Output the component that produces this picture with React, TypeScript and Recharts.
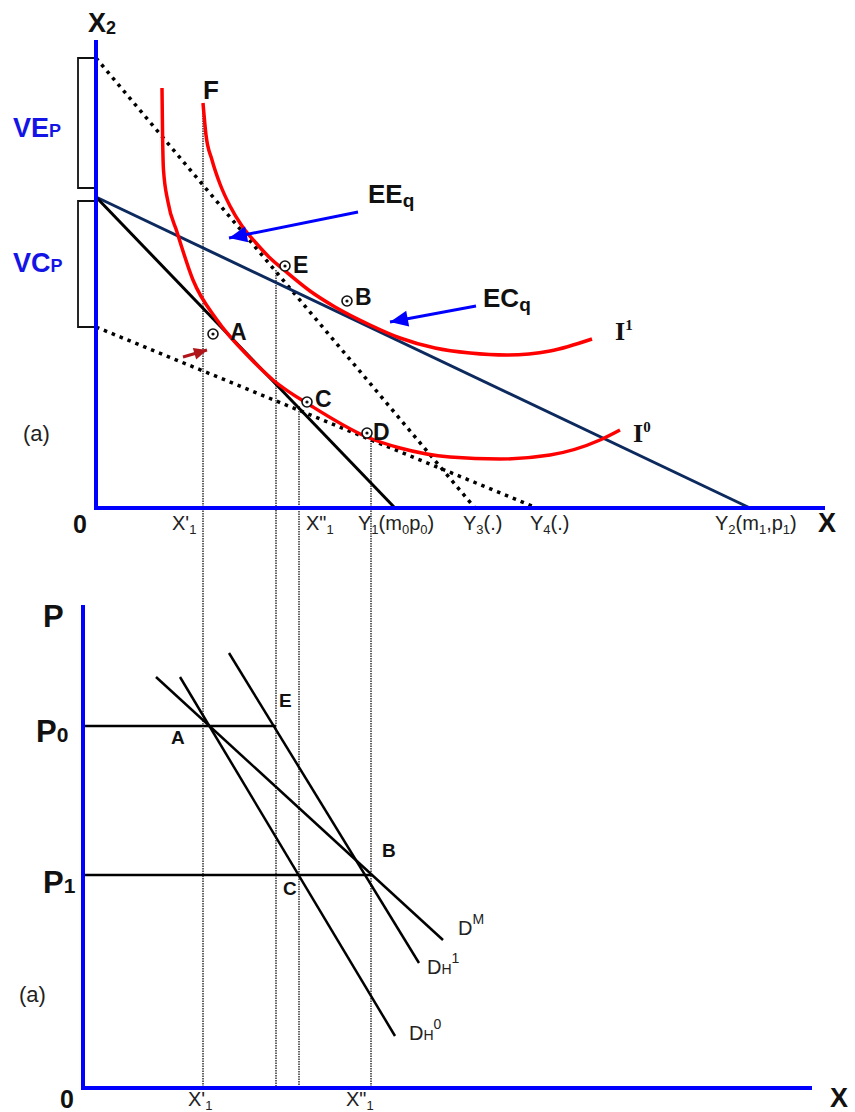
import React from 'react';
import { ComposedChart, XAxis, YAxis, Line, ReferenceDot } from 'recharts';

type Pt = { x: number; y: number };

const SANS = 'Liberation Sans, Arial, Helvetica, sans-serif';
const SERIF = 'Liberation Serif, Times New Roman, serif';

// ---- upper panel (a): X along the bottom, X2 up, origin at the blue corner ----
const topAxisPts: Pt[] = [{ x: 0, y: 468 }, { x: 0, y: 0 }, { x: 729, y: 0 }];
const vepBracket: Pt[] = [{ x: -2, y: 450 }, { x: -18, y: 450 }, { x: -18, y: 320 }, { x: -2, y: 320 }];
const vcpBracket: Pt[] = [{ x: -2, y: 307 }, { x: -18, y: 307 }, { x: -18, y: 181 }, { x: -2, y: 181 }];

const budgetY1: Pt[] = [{ x: 0, y: 311 }, { x: 299, y: 0 }];
const budgetY2: Pt[] = [{ x: 0, y: 311 }, { x: 654, y: 0 }];
const budgetY3: Pt[] = [{ x: 0, y: 450 }, { x: 379, y: 0 }];
const budgetY4: Pt[] = [{ x: 0, y: 181 }, { x: 441, y: 0 }];

const indiffI0: Pt[] = [
  { x: 66, y: 420 }, { x: 66.5, y: 378 }, { x: 67.5, y: 338 }, { x: 72, y: 306 }, { x: 81, y: 276 },
  { x: 97, y: 228 }, { x: 121, y: 188 }, { x: 154, y: 150 }, { x: 177, y: 128 }, { x: 217, y: 101 },
  { x: 271, y: 71 }, { x: 304, y: 60 }, { x: 354, y: 51 }, { x: 404, y: 49 }, { x: 454, y: 53 },
  { x: 504, y: 68 }, { x: 524, y: 78 },
];
const indiffI1: Pt[] = [
  { x: 107, y: 405 }, { x: 110, y: 373 }, { x: 116, y: 348 }, { x: 124, y: 324 }, { x: 134, y: 302 },
  { x: 146, y: 282 }, { x: 160, y: 265 }, { x: 174, y: 250 }, { x: 188, y: 238 }, { x: 214, y: 217 },
  { x: 239, y: 201 }, { x: 274, y: 183 }, { x: 304, y: 170 }, { x: 339, y: 160 }, { x: 374, y: 155 },
  { x: 411, y: 153 }, { x: 454, y: 157 }, { x: 496, y: 169 },
];

// drop lines from F, E, C, D down to the lower axis
const dropX = [107, 180, 203, 275];
const dropTop = [405, 238, 102, 75];
const dropBottom = -580;

const pointMarks: Pt[] = [
  { x: 117, y: 174 }, { x: 189, y: 242 }, { x: 251, y: 207 }, { x: 211, y: 106 }, { x: 271, y: 75 },
];
const pointNames = ['A', 'E', 'B', 'C', 'D'];
const pointNameAt: Pt[] = [
  { x: 134, y: 168 }, { x: 197, y: 235 }, { x: 259, y: 203 }, { x: 219, y: 101 }, { x: 277, y: 68 },
];

const arrowEE: Pt[] = [{ x: 262, y: 296 }, { x: 133, y: 270 }];
const arrowEC: Pt[] = [{ x: 380, y: 202 }, { x: 294, y: 186 }];
const arrowShift: Pt[] = [{ x: 87, y: 151 }, { x: 111, y: 158 }];

// ---- lower panel (a): X along the bottom, P up ----
const lowAxisPts: Pt[] = [{ x: 0, y: 483 }, { x: 0, y: 0 }, { x: 729, y: 0 }];
const priceP0: Pt[] = [{ x: 0, y: 362 }, { x: 193, y: 362 }];
const priceP1: Pt[] = [{ x: 0, y: 213 }, { x: 289, y: 213 }];
const demandM: Pt[] = [{ x: 73, y: 411 }, { x: 360, y: 148 }];
const demandH1: Pt[] = [{ x: 146, y: 435 }, { x: 336, y: 125 }];
const demandH0: Pt[] = [{ x: 97, y: 411 }, { x: 312, y: 52 }];
const lowPointNames = ['A', 'E', 'B', 'C'];
const lowPointNameAt: Pt[] = [{ x: 88, y: 344 }, { x: 196, y: 381 }, { x: 299, y: 231 }, { x: 200, y: 193 }];

const seg = (
  key: string, ax: string, pts: Pt[], stroke: string, width: number,
  dash?: string, curve: 'linear' | 'monotone' = 'linear', dot: any = false,
) => (
  <Line
    key={key}
    xAxisId={ax}
    yAxisId={ax}
    data={pts}
    dataKey="y"
    type={curve}
    stroke={stroke}
    strokeWidth={width}
    strokeDasharray={dash}
    dot={dot}
    activeDot={false}
    isAnimationActive={false}
  />
);

const arrowHead = (pts: Pt[], color: string, len: number, half: number) => (p: any) => {
  if (p.index !== pts.length - 1) return <g key={`n${p.index}`} />;
  const a = pts[pts.length - 2];
  const b = pts[pts.length - 1];
  const deg = (Math.atan2(-(b.y - a.y), b.x - a.x) * 180) / Math.PI;
  return (
    <polygon
      key="head"
      points={`0,0 ${-len},${-half} ${-len},${half}`}
      fill={color}
      transform={`translate(${p.cx},${p.cy}) rotate(${deg})`}
    />
  );
};

// text pieces: [text, fontSize (0 = inherit), offset from baseline (+ is down)]
type Piece = [string, number, number];
const rich = (parts: Piece[]) => {
  let cur = 0;
  return parts.map(([t, size, off], i) => {
    const dy = off - cur;
    cur = off;
    return (
      <tspan key={i} fontSize={size || undefined} dy={dy || undefined}>
        {t}
      </tspan>
    );
  });
};

const note = (key: string, ax: string, at: Pt, body: React.ReactNode, style: any) => (
  <ReferenceDot
    key={key}
    xAxisId={ax}
    yAxisId={ax}
    x={at.x}
    y={at.y}
    r={0}
    ifOverflow="visible"
    shape={(p: any) => (
      <text x={p.cx} y={p.cy} {...style}>
        {body}
      </text>
    )}
  />
);

const tick = { fontFamily: SANS, fontSize: 20, fill: '#222' };
const bold = (size: number, fill = '#111') => ({ fontFamily: SANS, fontSize: size, fontWeight: 700, fill });
const serifBold = { fontFamily: SERIF, fontSize: 26, fontWeight: 700, fill: '#111' };

const App = () => {
  const NAVY = '#0d2a5e';
  const BLUE = '#0000ff';
  const RED = '#ff0000';
  return (
    <div style={{ position: 'absolute', left: 0, top: 0 }}>
      <ComposedChart width={855} height={1112} margin={{ top: 0, right: 0, bottom: 0, left: 0 }}>
        <XAxis xAxisId="t" type="number" dataKey="x" domain={[-96, 759]} scale="linear" allowDataOverflow hide />
        <YAxis yAxisId="t" type="number" domain={[-604, 508]} scale="linear" allowDataOverflow hide />
        <XAxis xAxisId="b" type="number" dataKey="x" domain={[-83, 772]} scale="linear" allowDataOverflow hide />
        <YAxis yAxisId="b" type="number" domain={[-24, 1088]} scale="linear" allowDataOverflow hide />

        {dropX.map((x, i) =>
          seg(`drop${i}`, 't', [{ x, y: dropTop[i] }, { x, y: dropBottom }], '#111', 1.3, '1.5 1'),
        )}

        {seg('vep', 't', vepBracket, '#111', 1.8)}
        {seg('vcp', 't', vcpBracket, '#111', 1.8)}
        {seg('y3', 't', budgetY3, '#000', 3.5, '3.5 5')}
        {seg('y4', 't', budgetY4, '#000', 3.5, '3.5 5')}
        {seg('y2', 't', budgetY2, NAVY, 3)}
        {seg('y1', 't', budgetY1, '#000', 3)}
        {seg('i0', 't', indiffI0, RED, 3.5, undefined, 'monotone')}
        {seg('i1', 't', indiffI1, RED, 3.5, undefined, 'monotone')}
        {seg('taxis', 't', topAxisPts, BLUE, 4)}

        {seg('aee', 't', arrowEE, BLUE, 3, undefined, 'linear', arrowHead(arrowEE, BLUE, 18, 8))}
        {seg('aec', 't', arrowEC, BLUE, 3, undefined, 'linear', arrowHead(arrowEC, BLUE, 18, 8))}
        {seg('ash', 't', arrowShift, '#b0151a', 3, undefined, 'linear', arrowHead(arrowShift, '#b0151a', 13, 6))}

        {pointMarks.map((m, i) => (
          <ReferenceDot
            key={`pm${i}`}
            xAxisId="t"
            yAxisId="t"
            x={m.x}
            y={m.y}
            r={5}
            ifOverflow="visible"
            shape={(p: any) => (
              <g>
                <circle cx={p.cx} cy={p.cy} r={5} fill="#fff" stroke="#111" strokeWidth={1.6} />
                <circle cx={p.cx} cy={p.cy} r={1.6} fill="#111" />
              </g>
            )}
          />
        ))}
        {pointNames.map((n, i) => note(`pn${i}`, 't', pointNameAt[i], n, bold(23)))}

        {note('x2', 't', { x: -8, y: 476 }, rich([['X', 0, 0], ['2', 18, 2]]), bold(27))}
        {note('vepl', 't', { x: -83, y: 371 }, rich([['VE', 0, 0], ['P', 18, 0]]), bold(27, '#1414e6'))}
        {note('vcpl', 't', { x: -83, y: 236 }, rich([['VC', 0, 0], ['P', 18, 0]]), bold(27, '#1414e6'))}
        {note('f', 't', { x: 107, y: 409 }, 'F', bold(26))}
        {note('eeq', 't', { x: 272, y: 305 }, rich([['EE', 0, 0], ['q', 19, 4]]), bold(26))}
        {note('ecq', 't', { x: 387, y: 201 }, rich([['EC', 0, 0], ['q', 19, 4]]), bold(26))}
        {note('i1l', 't', { x: 519, y: 168 }, rich([['I', 0, 0], ['1', 15, -10]]), serifBold)}
        {note('i0l', 't', { x: 537, y: 66 }, rich([['I', 0, 0], ['0', 15, -10]]), serifBold)}
        {note('aT', 't', { x: -73, y: 67 }, '(a)', { fontFamily: SANS, fontSize: 22, fill: '#222' })}
        {note('oT', 't', { x: -23, y: -25 }, '0', bold(25))}
        {note('xT', 't', { x: 722, y: -24 }, 'X', bold(27))}
        {note('tx1', 't', { x: 76, y: -22 }, rich([["X'", 0, 0], ['1', 13, 4]]), tick)}
        {note('tx2', 't', { x: 210, y: -22 }, rich([['X"', 0, 0], ['1', 13, 4]]), tick)}
        {note('ty1', 't', { x: 262, y: -22 },
          rich([['Y', 0, 0], ['1', 13, 4], ['(m', 0, 0], ['0', 13, 4], ['p', 0, 0], ['0', 13, 4], [')', 0, 0]]), tick)}
        {note('ty3', 't', { x: 367, y: -22 }, rich([['Y', 0, 0], ['3', 13, 4], ['(.)', 0, 0]]), tick)}
        {note('ty4', 't', { x: 434, y: -22 }, rich([['Y', 0, 0], ['4', 13, 4], ['(.)', 0, 0]]), tick)}
        {note('ty2', 't', { x: 619, y: -22 },
          rich([['Y', 0, 0], ['2', 13, 4], ['(m', 0, 0], ['1', 13, 4], [',p', 0, 0], ['1', 13, 4], [')', 0, 0]]), tick)}

        {seg('p0', 'b', priceP0, '#000', 2.5)}
        {seg('p1', 'b', priceP1, '#000', 2.5)}
        {seg('dm', 'b', demandM, '#000', 2.5)}
        {seg('dh1', 'b', demandH1, '#000', 2.5)}
        {seg('dh0', 'b', demandH0, '#000', 2.5)}
        {seg('baxis', 'b', lowAxisPts, BLUE, 4)}

        {lowPointNames.map((n, i) => note(`lp${i}`, 'b', lowPointNameAt[i], n, bold(19)))}
        {note('pB', 'b', { x: -40, y: 461 }, 'P', bold(31))}
        {note('p0l', 'b', { x: -47, y: 346 }, rich([['P', 0, 0], ['0', 21, 0]]), bold(31))}
        {note('p1l', 'b', { x: -40, y: 195 }, rich([['P', 0, 0], ['1', 21, 0]]), bold(31))}
        {note('dml', 'b', { x: 375, y: 153 }, rich([['D', 0, 0], ['M', 14, -11]]), tick)}
        {note('dh1l', 'b', { x: 344, y: 114 }, rich([['D', 0, 0], ['H', 14, 0], ['1', 14, -11]]), tick)}
        {note('dh0l', 'b', { x: 326, y: 48 }, rich([['D', 0, 0], ['H', 14, 0], ['0', 14, -11]]), tick)}
        {note('aB', 'b', { x: -64, y: 86 }, '(a)', { fontFamily: SANS, fontSize: 22, fill: '#222' })}
        {note('oB', 'b', { x: -23, y: -20 }, '0', bold(25))}
        {note('xB', 'b', { x: 747, y: -19 }, 'X', bold(27))}
        {note('bx1', 'b', { x: 105, y: -18 }, rich([["X'", 0, 0], ['1', 13, 4]]), tick)}
        {note('bx2', 'b', { x: 263, y: -18 }, rich([['X"', 0, 0], ['1', 13, 4]]), tick)}
      </ComposedChart>
    </div>
  );
};

export default App;
